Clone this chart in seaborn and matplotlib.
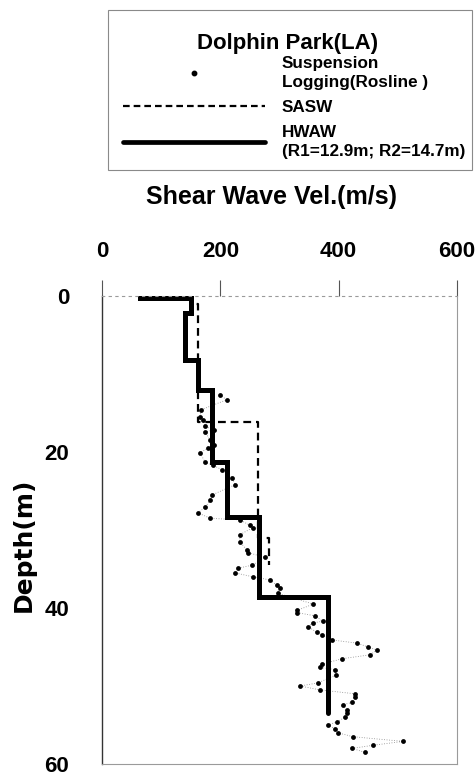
import numpy as np
import pandas as pd
import matplotlib
matplotlib.use("Agg")
import matplotlib.pyplot as plt
from matplotlib.lines import Line2D
from matplotlib.patches import Rectangle
import seaborn as sns

# ---- Suspension logging (Rosline): velocity (m/s) vs depth (m)
susp_vel = [199, 211, 167, 166, 171, 174, 189, 174, 183, 189, 179, 166, 174, 188,
            203, 220, 225, 186, 183, 174, 162, 183, 233, 250, 255, 233, 233, 245,
            247, 275, 254, 230, 225, 255, 284, 296, 301, 297, 357, 330, 330, 360,
            373, 357, 348, 363, 372, 389, 431, 450, 465, 453, 406, 372, 368, 394,
            395, 365, 335, 368, 428, 428, 423, 407, 414, 414, 411, 397, 382, 394,
            399, 424, 509, 458, 423, 444]
susp_depth = [12.7, 13.3, 14.6, 15.5, 15.9, 16.7, 17.2, 17.4, 18.5, 19.1, 19.5, 20.1,
              21.3, 21.7, 22.3, 23.3, 24.2, 25.5, 26.2, 27.1, 27.8, 28.5, 28.7, 29.4,
              29.7, 30.6, 31.5, 32.6, 32.9, 33.5, 34.5, 34.9, 35.5, 36.0, 36.4, 37.1,
              37.4, 38.1, 39.5, 40.3, 40.6, 41.0, 41.7, 41.9, 42.4, 43.1, 43.5, 44.1,
              44.5, 45.0, 45.4, 46.0, 46.5, 47.2, 47.6, 47.9, 48.6, 49.6, 50.0, 50.5,
              51.0, 51.4, 52.1, 52.4, 53.1, 53.5, 54.0, 54.6, 55.0, 55.5, 56.0, 56.5,
              57.1, 57.6, 58.0, 58.5]

# ---- SASW layered profile
sasw_top = [0.0, 1.0, 16.1, 31.0]
sasw_bottom = [1.0, 16.1, 31.0, 34.5]
sasw_vel = [152, 163, 264, 283]

# ---- HWAW layered profile
hwaw_top = [0.0, 0.3, 2.2, 8.2, 12.0, 21.3, 28.3, 38.6]
hwaw_bottom = [0.3, 2.2, 8.2, 12.0, 21.3, 28.3, 38.6, 53.5]
hwaw_vel = [64, 150, 140, 162, 186, 211, 265, 382]

x_ticks = [0, 200, 400, 600]
y_ticks = [0, 20, 40, 60]

site_title = "Dolphin Park(LA)"
series_labels = ["Suspension\nLogging(Rosline )", "SASW", "HWAW\n(R1=12.9m; R2=14.7m)"]


def step_profile(tops, bottoms, vels):
    """Turn a list of layers into a stepped velocity-depth polyline."""
    v, d = [], []
    for t, b, vel in zip(tops, bottoms, vels):
        v += [vel, vel]
        d += [t, b]
    return pd.DataFrame({"vel": v, "depth": d})


susp = pd.DataFrame({"vel": susp_vel, "depth": susp_depth})
sasw = step_profile(sasw_top, sasw_bottom, sasw_vel)
hwaw = step_profile(hwaw_top, hwaw_bottom, hwaw_vel)

sns.set_theme(style="white")
plt.rcParams["font.family"] = ["Liberation Sans", "DejaVu Sans"]
plt.rcParams["font.weight"] = "bold"
plt.rcParams["axes.grid"] = False
for key in ("text.color", "axes.labelcolor", "xtick.color", "ytick.color"):
    plt.rcParams[key] = "black"

W, H = 476, 776
fig = plt.figure(figsize=(W / 100, H / 100), dpi=100)
ax = fig.add_axes([102 / W, 12 / H, 355 / W, 468 / H])

# thin dotted connector between logging readings
sns.lineplot(data=susp, x="vel", y="depth", sort=False, estimator=None, ax=ax,
             color="#8a8a8a", lw=0.6, linestyle=(0, (1, 2)))
sns.lineplot(data=sasw, x="vel", y="depth", sort=False, estimator=None, ax=ax,
             color="black", lw=1.6, dashes=False, linestyle=(0, (3.5, 2.2)))
sns.lineplot(data=hwaw, x="vel", y="depth", sort=False, estimator=None, ax=ax,
             color="black", lw=3.6, solid_joinstyle="miter")
sns.scatterplot(data=susp, x="vel", y="depth", ax=ax, color="black", s=12,
                linewidth=0, zorder=5)

ax.set_xlim(0, 600)
ax.set_ylim(60, 0)
ax.set_xticks(x_ticks)
ax.set_yticks(y_ticks)
ax.set_xticklabels([str(t) for t in x_ticks])
ax.set_yticklabels([str(t) for t in y_ticks])
ax.xaxis.tick_top()
ax.xaxis.set_label_position("top")
ax.xaxis.grid(False)
ax.yaxis.grid(False)
ax.tick_params(axis="both", which="major", direction="out", length=11.5,
               width=0.8, color="#555555", labelcolor="black", labelsize=16)
ax.tick_params(axis="x", pad=13)
ax.tick_params(axis="y", pad=12)
for lab in ax.get_xticklabels() + ax.get_yticklabels():
    lab.set_fontweight("bold")

ax.set_xlabel("Shear Wave Vel.(m/s)", fontsize=18, fontweight="bold", color="black")
ax.xaxis.set_label_coords((271 - 102) / 355, (764 - 197) / 468)
ax.xaxis.label.set_va("center")
ax.set_ylabel("Depth(m)", fontsize=18, fontweight="bold", color="black",
              family=["DejaVu Sans"])
ax.yaxis.set_label_coords((24 - 102) / 355, (764 - 545) / 468)
ax.yaxis.label.set_va("center")

ax.spines["left"].set_color("#333333")
ax.spines["left"].set_linewidth(1.0)
for side in ("top", "right", "bottom"):
    ax.spines[side].set_color("#9a9a9a")
    ax.spines[side].set_linewidth(0.8)
ax.spines["top"].set_linestyle((0, (2, 4)))

# ---- legend panel: frame, site title and the three series keys
fig.patches.append(Rectangle((108 / W, 1 - 170 / H), 364 / W, 160 / H,
                             transform=fig.transFigure, fill=False,
                             edgecolor="#8a8a8a", linewidth=0.8))
fig.text(288 / W, 1 - 43 / H, site_title, ha="center", va="center",
         fontsize=16, fontweight="bold", color="black")

handles = [
    Line2D([], [], ls="none", marker="o", color="black", ms=3.2),
    Line2D([], [], color="black", lw=1.6, linestyle=(0, (3.0, 1.8))),
    Line2D([], [], color="black", lw=3.4),
]
leg = fig.legend(handles, series_labels, loc="upper left",
                 bbox_to_anchor=(123 / W, 1 - 56 / H),
                 prop={"size": 12.3, "weight": "bold"},
                 handlelength=8.3, handletextpad=1.0, labelspacing=0.6,
                 borderpad=0, borderaxespad=0, frameon=False)
for t in leg.get_texts():
    t.set_linespacing(1.3)

fig.savefig("out.png", dpi=100, facecolor="white")
